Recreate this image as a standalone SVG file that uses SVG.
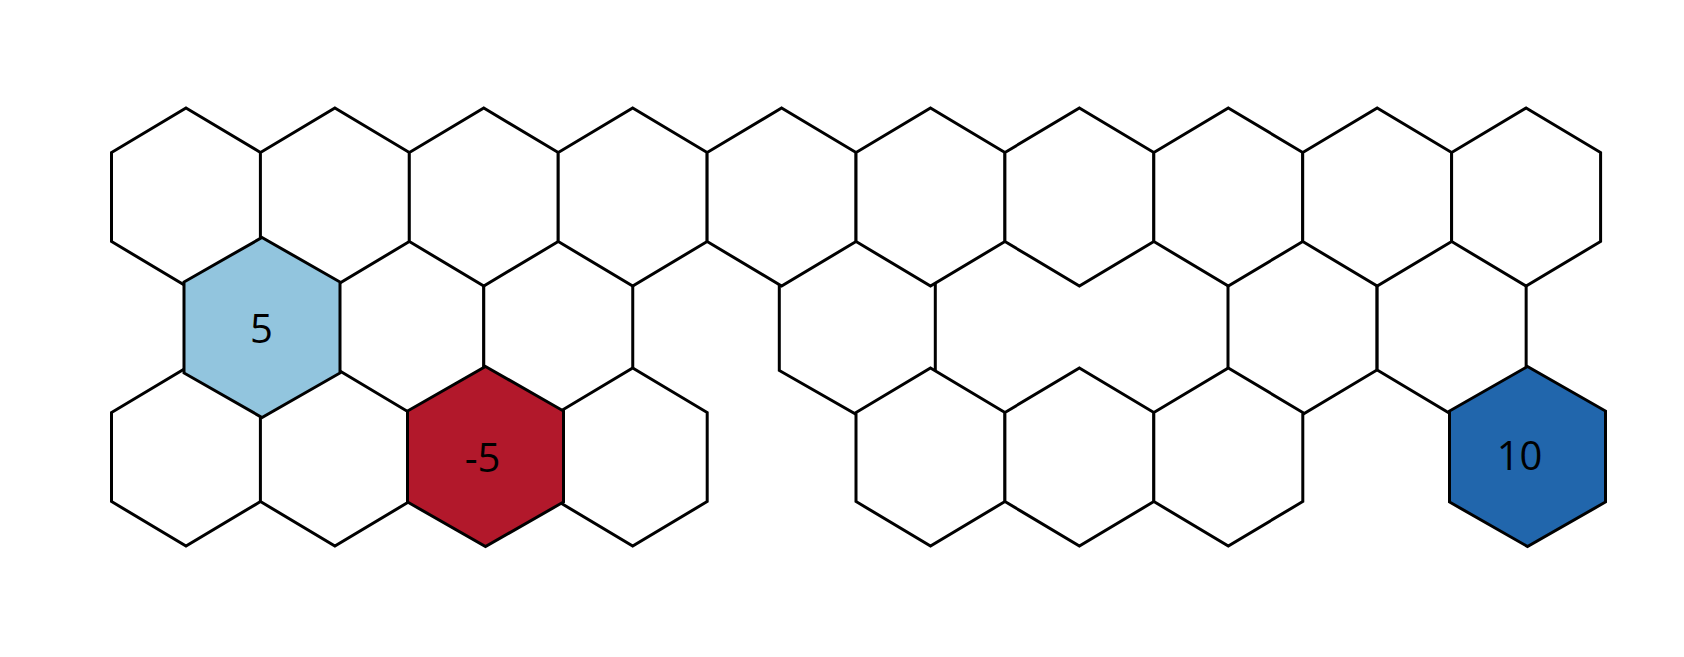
<svg xmlns="http://www.w3.org/2000/svg" xmlns:xlink="http://www.w3.org/1999/xlink" width="1684" height="657" viewBox="0 0 1684 657">
<style>
.hw{fill:#ffffff;stroke:#000000;stroke-width:3;stroke-linejoin:miter}
.hc{stroke:#000000;stroke-width:3;stroke-linejoin:miter}
.lbl{font-family:"Open Sans","Noto Sans","DejaVu Sans",sans-serif;font-size:40px;fill:#000000;text-anchor:middle}
</style>
<defs>
<path id="hexW" d="M0,-89 L74.5,-44.5 L74.5,44.5 L0,89 L-74.5,44.5 L-74.5,-44.5 Z"/>
<path id="hexC" d="M0,-90 L78,-45.5 L78,45.5 L0,90 L-78,45.5 L-78,-45.5 Z"/>
</defs>
<rect width="1684" height="657" fill="#ffffff"/>
<g id="row2">
<g id="r2c1"><use xlink:href="#hexW" class="hw" transform="translate(409.35,325.5)"/></g>
<g id="r2c2"><use xlink:href="#hexW" class="hw" transform="translate(558.25,325.5)"/></g>
<g id="r2c4"><use xlink:href="#hexC" class="hw" transform="translate(857.3,325)"/></g>
<g id="r2c7"><use xlink:href="#hexW" class="hw" transform="translate(1302.5,325.5)"/></g>
<g id="r2c8"><use xlink:href="#hexW" class="hw" transform="translate(1451.65,325.5)"/></g>
</g>
<g id="row1">
<g id="r1c0"><use xlink:href="#hexW" class="hw" transform="translate(186,197)"/></g>
<g id="r1c1"><use xlink:href="#hexW" class="hw" transform="translate(334.9,197)"/></g>
<g id="r1c2"><use xlink:href="#hexW" class="hw" transform="translate(483.8,197)"/></g>
<g id="r1c3"><use xlink:href="#hexW" class="hw" transform="translate(632.7,197)"/></g>
<g id="r1c4"><use xlink:href="#hexW" class="hw" transform="translate(781.6,197)"/></g>
<g id="r1c5"><use xlink:href="#hexW" class="hw" transform="translate(930.5,197)"/></g>
<g id="r1c6"><use xlink:href="#hexW" class="hw" transform="translate(1079.4,197)"/></g>
<g id="r1c7"><use xlink:href="#hexW" class="hw" transform="translate(1228.3,197)"/></g>
<g id="r1c8"><use xlink:href="#hexW" class="hw" transform="translate(1377.2,197)"/></g>
<g id="r1c9"><use xlink:href="#hexW" class="hw" transform="translate(1526.1,197)"/></g>
</g>
<g id="row3">
<g id="r3c0"><use xlink:href="#hexW" class="hw" transform="translate(186,457)"/></g>
<g id="r3c1"><use xlink:href="#hexW" class="hw" transform="translate(334.9,457)"/></g>
<g id="r3c3"><use xlink:href="#hexW" class="hw" transform="translate(632.7,457)"/></g>
<g id="r3c5"><use xlink:href="#hexW" class="hw" transform="translate(930.5,457)"/></g>
<g id="r3c6"><use xlink:href="#hexW" class="hw" transform="translate(1079.4,457)"/></g>
<g id="r3c7"><use xlink:href="#hexW" class="hw" transform="translate(1228.3,457)"/></g>
</g>
<g id="node-5">
<use xlink:href="#hexC" class="hc" fill="#92c5de" transform="translate(262,327.5)"/>
<text class="lbl" x="261.5" y="342.5">5</text>
</g>
<g id="node-neg5">
<use xlink:href="#hexC" class="hc" fill="#b2182b" transform="translate(485.5,456.5)"/>
<text class="lbl" x="482.5" y="471.5">-5</text>
</g>
<g id="node-10">
<use xlink:href="#hexC" class="hc" fill="#2166ac" transform="translate(1527.5,456.5)"/>
<text class="lbl" x="1519.5" y="470">10</text>
</g>
</svg>
